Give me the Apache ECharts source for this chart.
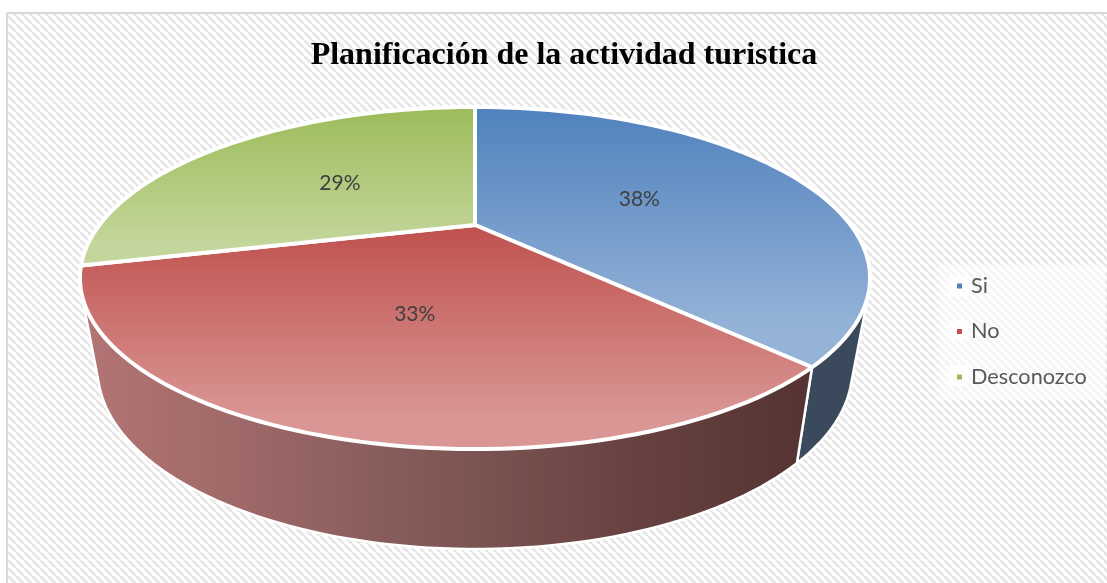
<!DOCTYPE html>
<html><head><meta charset="utf-8">
<style>html,body{margin:0;padding:0;background:#fff;overflow:hidden}#c{width:1107px;height:583px}</style>
<script src="https://cdn.jsdelivr.net/npm/echarts@6/dist/echarts.min.js"></script>
</head><body><div id="c"></div>
<script>
const categories = ['Si', 'No', 'Desconozco'];
const shares = [37.7, 33.4, 28.9];
const titleText = 'Planificación de la actividad turistica';
const topStart = ['#4f81bd', '#bf504d', '#9bbb59'];
const topEnd = ['#95b3d7', '#d99694', '#c3d69b'];
const legendColors = ['#4f81bd', '#c0504d', '#9bbb59'];

// Projection of the tilted disc
const CX = 475, CY = 225, R = 375.6, K = 154.6, P = 0.31;
const FRONT_TOP = 449, FRONT_BOTTOM = 549, SHRINK_X = 0.955, STRETCH_Y = 1.05;

function project(deg, r) {
  const a = deg * Math.PI / 180;
  const cosT = Math.sin(a), sinT = -Math.cos(a);
  const w = 1 - P * r * sinT;
  return [CX + R * r * cosT / w, CY + K * r * sinT / w];
}
function lower(p) {
  return [CX + (p[0] - CX) * SHRINK_X, FRONT_BOTTOM + (p[1] - FRONT_TOP) * STRETCH_Y];
}
function arc(a0, a1) {
  const n = Math.max(2, Math.ceil(Math.abs(a1 - a0) / 1.5)), pts = [];
  for (let i = 0; i <= n; i++) pts.push(project(a0 + (a1 - a0) * i / n, 1));
  return pts;
}
function hull(points) {
  const p = points.slice().sort((a, b) => a[0] - b[0] || a[1] - b[1]);
  const cross = (o, a, b) => (a[0] - o[0]) * (b[1] - o[1]) - (a[1] - o[1]) * (b[0] - o[0]);
  const lo = [], up = [];
  for (const q of p) { while (lo.length > 1 && cross(lo[lo.length - 2], lo[lo.length - 1], q) <= 0) lo.pop(); lo.push(q); }
  for (const q of p.slice().reverse()) { while (up.length > 1 && cross(up[up.length - 2], up[up.length - 1], q) <= 0) up.pop(); up.push(q); }
  return lo.slice(0, -1).concat(up.slice(0, -1));
}
const total = shares.reduce((a, b) => a + b, 0);
const starts = shares.map((_, i) => shares.slice(0, i).reduce((a, b) => a + b, 0) / total * 360);
const ends = shares.map((s, i) => starts[i] + s / total * 360);

const sideFill = [
  '#3a4a5c',
  new echarts.graphic.LinearGradient(85, 0, 800, 0, [
    { offset: 0, color: '#b37474' }, { offset: 0.2, color: '#a06a69' }, { offset: 0.45, color: '#845b59' },
    { offset: 0.75, color: '#694342' }, { offset: 1, color: '#553433' }], true),
  null
];

function renderSlice(params) {
  const i = params.seriesIndex, a0 = starts[i], a1 = ends[i];
  const children = [];
  const v0 = Math.max(a0, 90), v1 = Math.min(a1, 255.6);
  if (v1 > v0 && sideFill[i]) {
    const rim = arc(v0, v1);
    children.push({ type: 'polygon', shape: { points: hull(rim.concat(rim.map(lower))) },
      style: { fill: sideFill[i], stroke: '#fff', lineWidth: 2.5, lineJoin: 'round' } });
  }
  children.push({ type: 'polygon', shape: { points: [[CX, CY]].concat(arc(a0, a1)) },
    style: { fill: new echarts.graphic.LinearGradient(0, 0, 0, 1, [
      { offset: 0, color: topStart[i] }, { offset: 0.85, color: topEnd[i] }, { offset: 1, color: topEnd[i] }]),
      stroke: '#fff', lineWidth: 4, lineJoin: 'round' } });
  const m = project((a0 + a1) / 2, 0.5);
  children.push({ type: 'text', style: { text: Math.round(shares[i]) + '%', x: m[0], y: m[1] + 2, align: 'center', verticalAlign: 'middle',
    font: '21px Lato', fill: '#404040' } });
  return { type: 'group', children };
}

const tile = document.createElement('canvas');
tile.width = tile.height = 8;
const g = tile.getContext('2d');
g.fillStyle = '#fff'; g.fillRect(0, 0, 8, 8);
g.strokeStyle = '#e6e6e6'; g.lineWidth = 2.8;
[-8, 0, 8].forEach(o => { g.beginPath(); g.moveTo(o, 0); g.lineTo(o + 8, 8); g.stroke(); });

const chart = echarts.init(document.getElementById('c'), null, { renderer: 'canvas' });
chart.setOption({
  animation: false,
  backgroundColor: '#fff',
  title: { text: titleText, left: 559, top: 35, textAlign: 'center',
    textStyle: { fontFamily: 'Liberation Serif', fontWeight: 'bold', fontSize: 32, color: '#000' } },
  legend: { orient: 'vertical', left: 957, top: 275, padding: 0, itemGap: 23.5,
    data: categories, icon: 'rect', itemWidth: 5, itemHeight: 5, selectedMode: false,
    textStyle: { fontFamily: 'Lato', fontSize: 21.7, color: '#595959', padding: [0, 0, 0, 4] } },
  graphic: [
    { type: 'rect', z: -10, shape: { x: 7, y: 13, width: 1100, height: 570 }, style: { fill: { image: tile, repeat: 'repeat' } } },
    { type: 'line', z: -9, shape: { x1: 7, y1: 13, x2: 1107, y2: 13 }, style: { stroke: '#d9d9d9', lineWidth: 2 } },
    { type: 'line', z: -9, shape: { x1: 7, y1: 13, x2: 7, y2: 583 }, style: { stroke: '#d9d9d9', lineWidth: 2 } },
    { type: 'rect', z: -8, shape: { x: 36, y: 101, width: 900, height: 459 }, style: { fill: 'transparent', stroke: 'rgba(255,255,255,0.6)', lineWidth: 1 } },
    { type: 'rect', z: -8, shape: { x: 938, y: 265, width: 167, height: 135 }, style: { fill: 'rgba(255,255,255,0.55)' } },
    { type: 'rect', z: -7, shape: { x: 948, y: 276, width: 21, height: 21, r: 4 }, style: { fill: 'rgba(255,255,255,0.7)' } },
    { type: 'rect', z: -7, shape: { x: 948, y: 320, width: 21, height: 21, r: 4 }, style: { fill: 'rgba(255,255,255,0.7)' } },
    { type: 'rect', z: -7, shape: { x: 948, y: 365, width: 21, height: 21, r: 4 }, style: { fill: 'rgba(255,255,255,0.7)' } }
  ],
  series: categories.map((name, i) => ({
    type: 'custom', name, coordinateSystem: 'none', renderItem: renderSlice, silent: true,
    itemStyle: { color: legendColors[i] }, data: [shares[i]]
  }))
});
</script></body></html>
